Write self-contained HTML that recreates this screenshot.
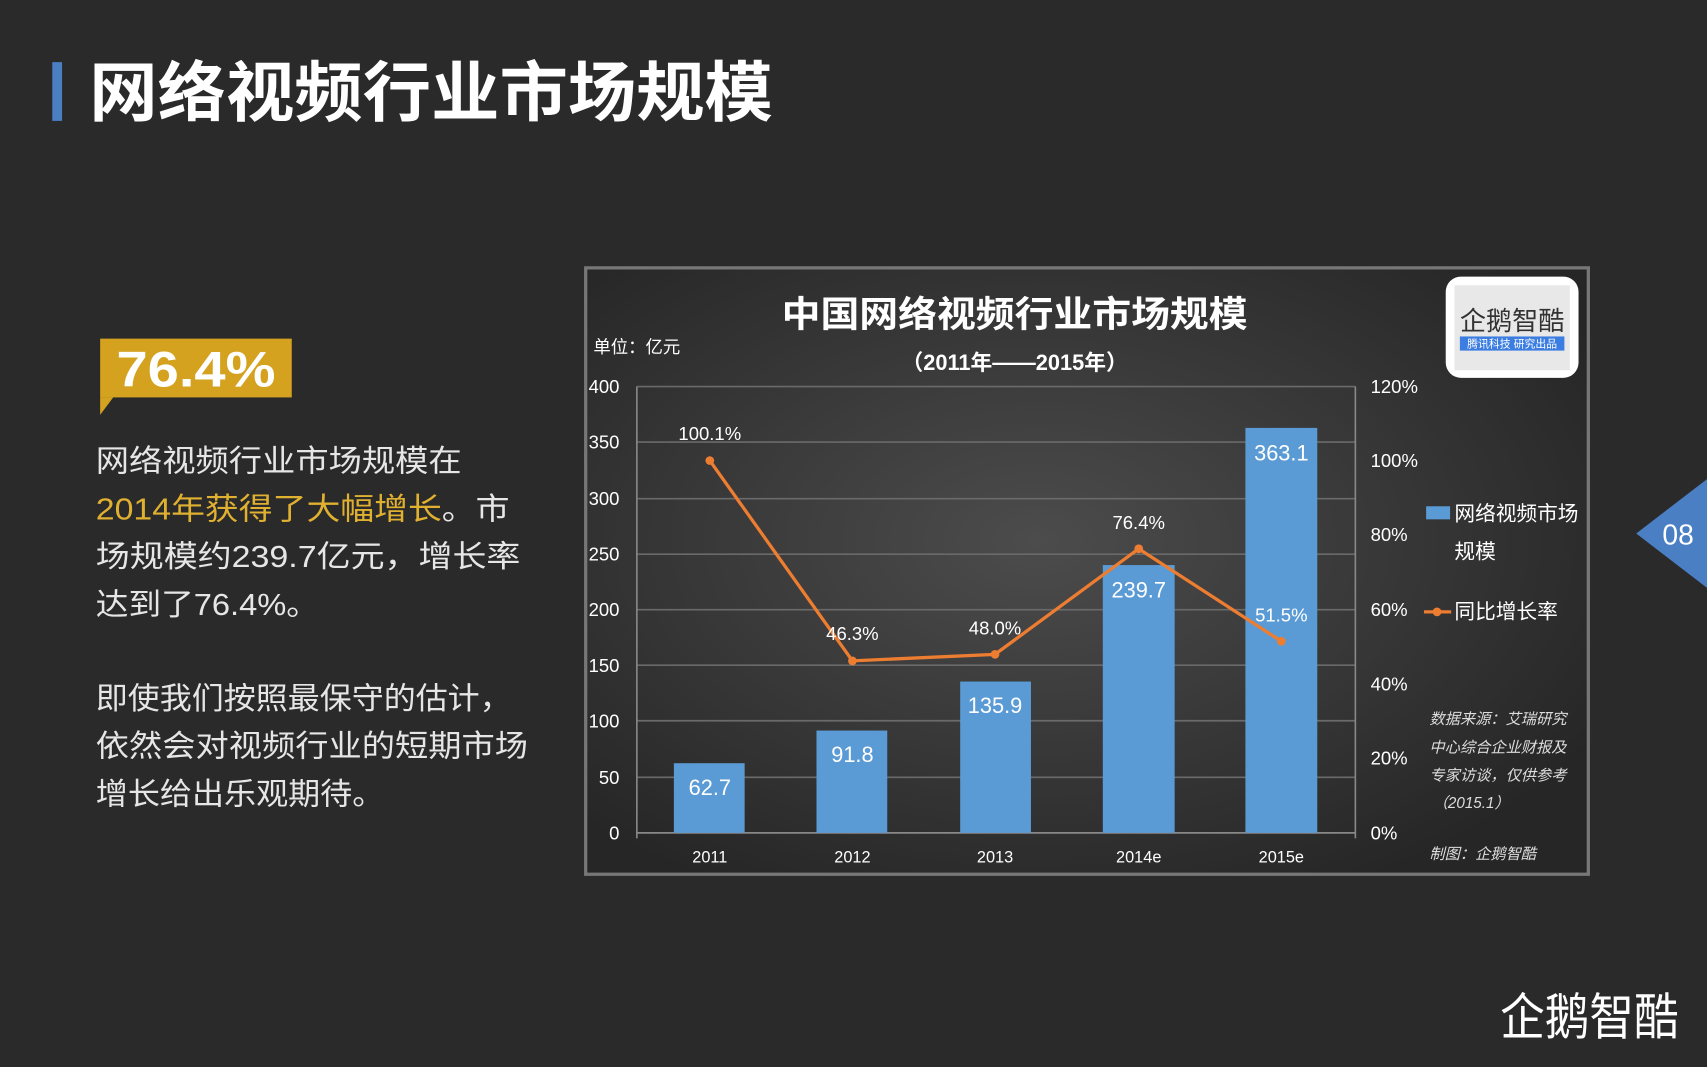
<!DOCTYPE html>
<html><head><meta charset="utf-8"><style>
html,body{margin:0;padding:0;background:#2a2a2a;}
svg{display:block;}
text{font-family:"Liberation Sans","Noto Sans CJK SC",sans-serif;}
</style></head><body>
<svg width="1707" height="1067" viewBox="0 0 1568 980" xmlns="http://www.w3.org/2000/svg">
<defs>
<radialGradient id="bg" cx="45%" cy="45%" r="65%">
<stop offset="0" stop-color="#4c4c4c"/><stop offset="1" stop-color="#262626"/>
</radialGradient>
</defs>
<rect width="1568" height="980" fill="#2a2a2a"/>
<rect x="48" y="57" width="9" height="54" fill="#4a7fc4"/>
<text x="82" y="106" font-size="60" font-weight="bold" fill="#fff" textLength="628" lengthAdjust="spacingAndGlyphs">网络视频行业市场规模</text>
<rect x="92" y="311" width="176" height="54" fill="#d4a21f"/>
<polygon points="92,365 92,381 104,365" fill="#d4a21f"/>
<text x="107" y="355" font-size="46" font-weight="bold" fill="#fff" textLength="146" lengthAdjust="spacingAndGlyphs">76.4%</text>
<g font-size="28" fill="#e6e6e6">
<text x="88" y="433" textLength="336" lengthAdjust="spacingAndGlyphs">网络视频行业市场规模在</text>
<text x="88" y="477" textLength="380" lengthAdjust="spacingAndGlyphs"><tspan fill="#e0b030">2014年获得了大幅增长</tspan>。市</text>
<text x="88" y="521" textLength="390" lengthAdjust="spacingAndGlyphs">场规模约239.7亿元，增长率</text>
<text x="88" y="565" textLength="205" lengthAdjust="spacingAndGlyphs">达到了76.4%。</text>
<text x="88" y="651" textLength="382" lengthAdjust="spacingAndGlyphs">即使我们按照最保守的估计，</text>
<text x="88" y="695" textLength="397" lengthAdjust="spacingAndGlyphs">依然会对视频行业的短期市场</text>
<text x="88" y="739" textLength="265" lengthAdjust="spacingAndGlyphs">增长给出乐观期待。</text>
</g>
<rect x="538" y="246" width="921" height="557" fill="url(#bg)" stroke="#777" stroke-width="3"/>
<text x="718" y="300" font-size="33" font-weight="bold" fill="#fff" textLength="428" lengthAdjust="spacingAndGlyphs">中国网络视频行业市场规模</text>
<text x="932" y="340" font-size="20" font-weight="bold" fill="#fff" text-anchor="middle">（2011年——2015年）</text>
<text x="545" y="324" font-size="16" fill="#fff">单位：亿元</text>
<g stroke="#6a6a6a" stroke-width="1.5">
<line x1="585" y1="355" x2="1245" y2="355"/><line x1="585" y1="406" x2="1245" y2="406"/>
<line x1="585" y1="458" x2="1245" y2="458"/><line x1="585" y1="509" x2="1245" y2="509"/>
<line x1="585" y1="560" x2="1245" y2="560"/><line x1="585" y1="611" x2="1245" y2="611"/>
<line x1="585" y1="662" x2="1245" y2="662"/><line x1="585" y1="714" x2="1245" y2="714"/>
</g>
<g stroke="#888" stroke-width="1.5">
<line x1="585" y1="765" x2="1245" y2="765"/>
<line x1="585" y1="355" x2="585" y2="770"/><line x1="1245" y1="355" x2="1245" y2="770"/>
</g>
<g font-size="17" fill="#fff" text-anchor="end">
<text x="569" y="361">400</text><text x="569" y="412">350</text><text x="569" y="464">300</text><text x="569" y="515">250</text><text x="569" y="566">200</text><text x="569" y="617">150</text><text x="569" y="668">100</text><text x="569" y="720">50</text><text x="569" y="771">0</text>
</g>
<g font-size="17" fill="#fff">
<text x="1259" y="361">120%</text><text x="1259" y="429">100%</text><text x="1259" y="497">80%</text><text x="1259" y="566">60%</text><text x="1259" y="634">40%</text><text x="1259" y="702">20%</text><text x="1259" y="771">0%</text>
</g>
<g fill="#5b9bd5">
<rect x="619" y="701" width="65" height="64"/>
<rect x="750" y="671" width="65" height="94"/>
<rect x="882" y="626" width="65" height="139"/>
<rect x="1013" y="519" width="66" height="246"/>
<rect x="1144" y="393" width="66" height="372"/>
</g>
<g font-size="20" fill="#fff" text-anchor="middle">
<text x="652" y="730">62.7</text><text x="783" y="700">91.8</text><text x="914" y="655">135.9</text><text x="1046" y="549">239.7</text><text x="1177" y="423">363.1</text>
</g>
<polyline points="652,423 783,607 914,601 1046,504 1177,589" fill="none" stroke="#ed7d31" stroke-width="3"/>
<g fill="#ed7d31">
<circle cx="652" cy="423" r="4"/><circle cx="783" cy="607" r="4"/><circle cx="914" cy="601" r="4"/><circle cx="1046" cy="504" r="4"/><circle cx="1177" cy="589" r="4"/>
</g>
<g font-size="17" fill="#fff" text-anchor="middle">
<text x="652" y="404">100.1%</text><text x="783" y="588">46.3%</text><text x="914" y="583">48.0%</text><text x="1046" y="486">76.4%</text><text x="1177" y="571">51.5%</text>
</g>
<g font-size="15" fill="#fff" text-anchor="middle">
<text x="652" y="792">2011</text><text x="783" y="792">2012</text><text x="914" y="792">2013</text><text x="1046" y="792">2014e</text><text x="1177" y="792">2015e</text>
</g>
<rect x="1310" y="465" width="22" height="12" fill="#5b9bd5"/>
<g font-size="19" fill="#fff">
<text x="1336" y="478">网络视频市场</text><text x="1336" y="513">规模</text><text x="1336" y="568">同比增长率</text>
</g>
<line x1="1308" y1="562" x2="1333" y2="562" stroke="#ed7d31" stroke-width="3"/>
<circle cx="1320" cy="562" r="4" fill="#ed7d31"/>
<g font-size="14" fill="#ddd" font-style="italic">
<text x="1313" y="665">数据来源：艾瑞研究</text><text x="1313" y="691">中心综合企业财报及</text><text x="1313" y="717">专家访谈，仅供参考</text><text x="1316" y="742">（2015.1）</text><text x="1313" y="789">制图：企鹅智酷</text>
</g>
<rect x="1328" y="254" width="122" height="93" rx="14" fill="#fff"/>
<rect x="1336" y="262" width="106" height="78" fill="#e8e8e8"/>
<text x="1389" y="303" font-size="24" fill="#333" text-anchor="middle">企鹅智酷</text>
<rect x="1341" y="309" width="96" height="13" fill="#3b7de0"/>
<text x="1389" y="319" font-size="10" fill="#fff" text-anchor="middle">腾讯科技 研究出品</text>
<polygon points="1568,440 1503,490 1568,540" fill="#4a7fc4"/>
<text x="1527" y="500" font-size="26" fill="#fff">08</text>
<text x="1378" y="950" font-size="46" fill="#fff" textLength="164" lengthAdjust="spacingAndGlyphs">企鹅智酷</text>
</svg>
</body></html>
